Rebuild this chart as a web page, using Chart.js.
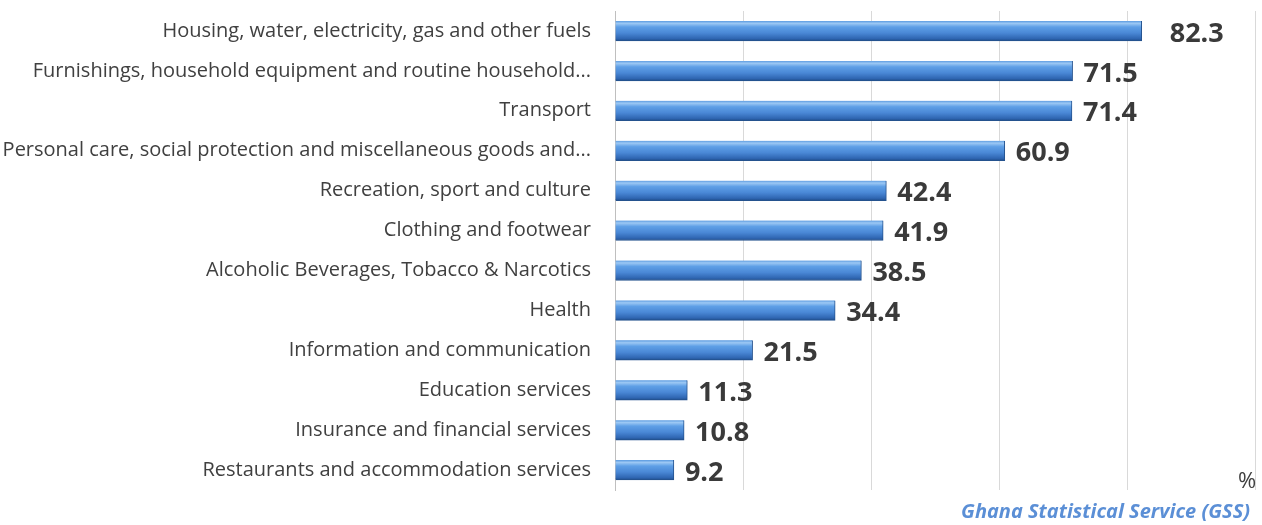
<!DOCTYPE html>
<html>
<head>
<meta charset="utf-8">
<script src="https://cdn.jsdelivr.net/npm/chart.js@4/dist/chart.umd.min.js"></script>
<style>
  html, body { margin: 0; padding: 0; background: #fff; }
  #wrap { position: relative; width: 1262px; height: 525px; overflow: hidden; }
  #c { position: absolute; left: 0; top: -25px; }
  #pct { position: absolute; left: 1238px; top: 464px; font: 22px "Open Sans", sans-serif; color: #404040; }
  #src { position: absolute; right: 12px; top: 497px; font: italic bold 20px "Open Sans", sans-serif; color: #5b8fd6; }
</style>
</head>
<body>
<div id="wrap">
  <canvas id="c" width="1262" height="551"></canvas>
  <div id="pct">%</div>
  <div id="src">Ghana Statistical Service (GSS)</div>
</div>
<script>
const categories = [
  "Housing, water, electricity, gas and other fuels",
  "Furnishings, household equipment and routine household...",
  "Transport",
  "Personal care, social protection and miscellaneous goods and...",
  "Recreation, sport and culture",
  "Clothing and footwear",
  "Alcoholic Beverages, Tobacco & Narcotics",
  "Health",
  "Information and communication",
  "Education services",
  "Insurance and financial services",
  "Restaurants and accommodation services"
];
const values = [82.3, 71.5, 71.4, 60.9, 42.4, 41.9, 38.5, 34.4, 21.5, 11.3, 10.8, 9.2];

const BAR_H = 20;

// cylinder-like shading for each bar
function barFill(ctx) {
  const chart = ctx.chart;
  const y = chart.scales && chart.scales.y;
  if (!chart.chartArea || !y || ctx.dataIndex === undefined) return "#4a8ad6";
  const cy = y.getPixelForValue(ctx.dataIndex);
  const g = chart.ctx.createLinearGradient(0, cy - BAR_H / 2, 0, cy + BAR_H / 2);
  g.addColorStop(0, "#5a9ae0");
  g.addColorStop(0.12, "#9cc8f4");
  g.addColorStop(0.3, "#5e9fe6");
  g.addColorStop(0.6, "#4a88d6");
  g.addColorStop(0.88, "#2f66b2");
  g.addColorStop(1, "#1f4d8a");
  return g;
}

const valueLabels = {
  id: "valueLabels",
  afterDatasetsDraw(chart) {
    const { ctx } = chart;
    const meta = chart.getDatasetMeta(0);
    ctx.save();
    ctx.font = "bold 27px 'Open Sans', sans-serif";
    ctx.fillStyle = "#3a3a3a";
    ctx.textBaseline = "middle";
    meta.data.forEach((bar, i) => {
      const off = i === 0 ? 28 : 11;
      ctx.fillText(values[i].toFixed(1), bar.x + off, bar.y + 3);
    });
    ctx.restore();
  }
};

new Chart(document.getElementById("c"), {
  type: "bar",
  data: {
    labels: categories,
    datasets: [{
      data: values,
      backgroundColor: barFill,
      borderColor: "#24528e",
      borderWidth: { top: 0, left: 0, bottom: 1, right: 1 },
      barThickness: BAR_H
    }]
  },
  options: {
    indexAxis: "y",
    responsive: false,
    animation: false,
    layout: { padding: { top: 11, right: 7, bottom: 36, left: 0 } },
    plugins: {
      legend: { display: false },
      tooltip: { enabled: false }
    },
    scales: {
      x: {
        min: 0,
        max: 100,
        ticks: { display: false, stepSize: 20 },
        grid: { color: "#d9d9d9", lineWidth: 1, drawTicks: false },
        border: { display: false }
      },
      y: {
        afterFit: s => { s.width = 615; },
        ticks: {
          color: "#404040",
          padding: 24,
          font: { family: "Open Sans", size: 20 }
        },
        grid: { display: false, drawTicks: false },
        border: { color: "#bfbfbf" }
      }
    }
  },
  plugins: [valueLabels]
});
</script>
</body>
</html>
